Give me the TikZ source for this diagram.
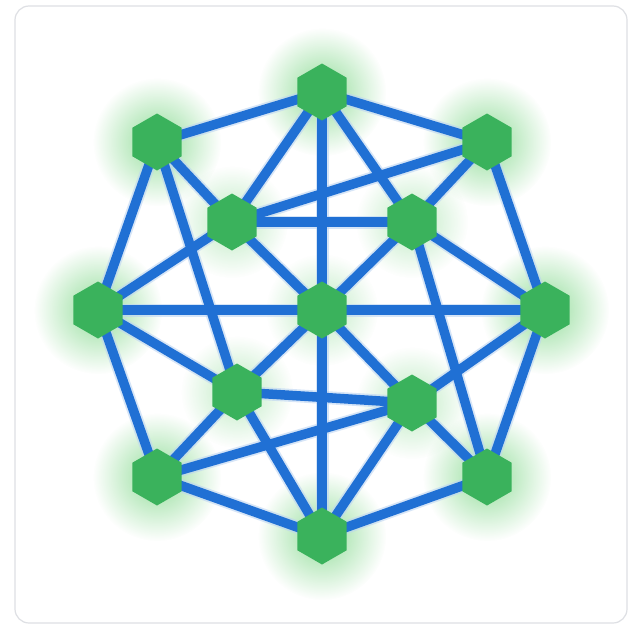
\documentclass[tikz,border=0pt]{standalone}
\usetikzlibrary{shapes.geometric,fadings}
\pgfdeclarelayer{back}
\pgfdeclarelayer{glow}
\pgfdeclarelayer{edges}
\pgfsetlayers{back,glow,edges,main}
\definecolor{netblue}{RGB}{32,112,212}
\definecolor{netgreen}{RGB}{58,178,92}
\definecolor{glowgreen}{RGB}{110,210,120}
\definecolor{frame}{RGB}{222,224,228}
\tikzfading[name=glowfade, inner color=transparent!25, outer color=transparent!100]
\tikzset{
  hexnode/.style={regular polygon, regular polygon sides=6, shape border rotate=30,
    fill=netgreen, draw=none, minimum size=57pt, inner sep=0pt},
  link/.style={draw=netblue, line width=9.5pt},
  linkhalo/.style={draw=netblue!30, line width=13pt, opacity=0.6},
}
\begin{document}
\begin{tikzpicture}[x=1pt,y=-1pt]
\useasboundingbox (0,0) rectangle (640,627);
\begin{pgfonlayer}{back}
\fill[white] (0,0) rectangle (640,627);
\draw[frame, line width=1.2pt, rounded corners=14pt] (15,6) rectangle (627,623);
\end{pgfonlayer}
% nodes
\node[hexnode] (T)   at (322,92)  {};
\node[hexnode] (UL)  at (157,142) {};
\node[hexnode] (UR)  at (487,142) {};
\node[hexnode] (IUL) at (232,222) {};
\node[hexnode] (IUR) at (412,222) {};
\node[hexnode] (L)   at (98,310)  {};
\node[hexnode] (C)   at (322,310) {};
\node[hexnode] (R)   at (545,310) {};
\node[hexnode] (ILL) at (237,392) {};
\node[hexnode] (ILR) at (412,403) {};
\node[hexnode] (LL)  at (157,477) {};
\node[hexnode] (LR)  at (487,477) {};
\node[hexnode] (B)   at (322,536) {};
% glow
\begin{pgfonlayer}{glow}
\foreach \n in {T,UL,UR,L,R,LL,LR,B}{
  \fill[glowgreen, path fading=glowfade] (\n) circle (64pt);
}
\foreach \n in {IUL,IUR,C,ILL,ILR}{
  \fill[glowgreen, path fading=glowfade, opacity=0.6] (\n) circle (56pt);
}
\end{pgfonlayer}
% edges
\begin{pgfonlayer}{edges}
\foreach \a/\b in {T/UL,T/UR,UL/L,UR/R,L/LL,R/LR,LL/B,LR/B,
  T/IUL,T/C,T/IUR,UL/IUL,UL/ILL,UR/IUR,UR/IUL,
  IUL/IUR,IUL/C,IUL/L,IUR/C,IUR/R,IUR/LR,
  C/L,C/R,C/B,C/ILL,C/ILR,L/ILL,R/ILR,
  ILL/ILR,ILL/LL,ILL/B,ILR/LL,ILR/B,ILR/LR}{
  \draw[linkhalo] (\a.center) -- (\b.center);
}
\foreach \a/\b in {T/UL,T/UR,UL/L,UR/R,L/LL,R/LR,LL/B,LR/B,
  T/IUL,T/C,T/IUR,UL/IUL,UL/ILL,UR/IUR,UR/IUL,
  IUL/IUR,IUL/C,IUL/L,IUR/C,IUR/R,IUR/LR,
  C/L,C/R,C/B,C/ILL,C/ILR,L/ILL,R/ILR,
  ILL/ILR,ILL/LL,ILL/B,ILR/LL,ILR/B,ILR/LR}{
  \draw[link] (\a.center) -- (\b.center);
}
\end{pgfonlayer}
\end{tikzpicture}
\end{document}
